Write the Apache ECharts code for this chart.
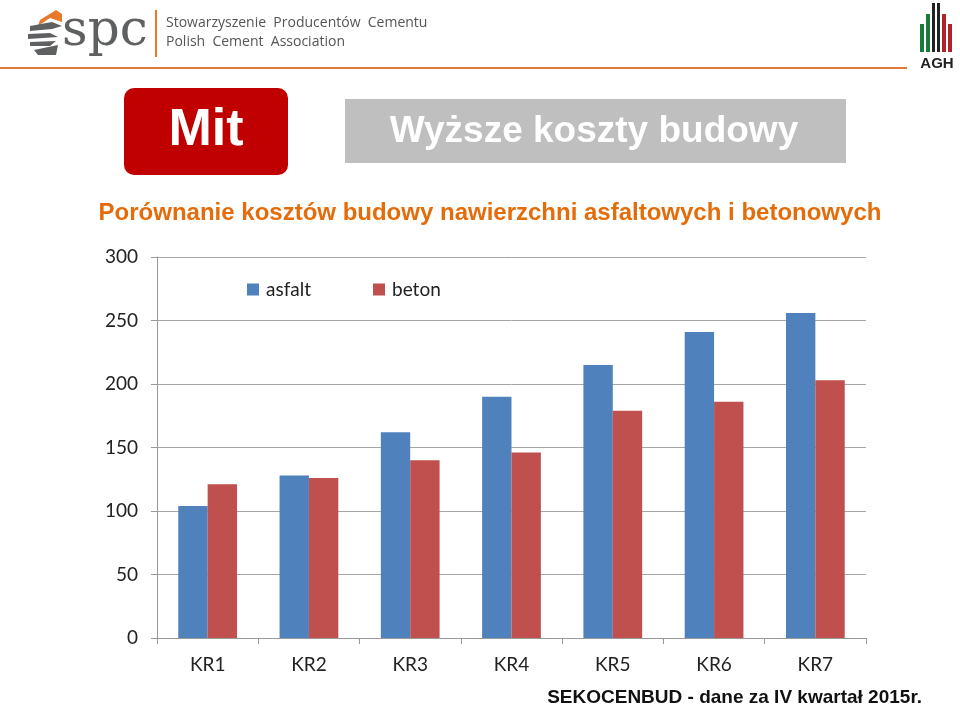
<!DOCTYPE html>
<html><head><meta charset="utf-8">
<script src="https://cdn.jsdelivr.net/npm/echarts@6/dist/echarts.min.js"></script>
<style>html,body{margin:0;padding:0;background:#fff}#c{width:960px;height:708px}</style>
</head><body><div id="c"></div>
<script>
const categories = ['KR1','KR2','KR3','KR4','KR5','KR6','KR7'];
const asfalt = [104, 128, 162, 190, 215, 241, 256];
const beton = [121, 126, 140, 146, 179, 186, 203];
const yTicks = [0, 50, 100, 150, 200, 250, 300];

const chart = echarts.init(document.getElementById('c'), null, {renderer:'canvas'});
const lab = 'Lato, "Open Sans", sans-serif';
chart.setOption({
  backgroundColor:'#fff',
  animation:false,
  grid:{left:157, right:94, top:257, bottom:70, containLabel:false},
  legend:{
    data:['asfalt','beton'], left:242, top:275, itemWidth:12, itemHeight:12, itemGap:62,
    icon:'rect', textStyle:{fontFamily:lab, fontSize:19, color:'#222', padding:[0,0,0,2]}
  },
  xAxis:{
    type:'category', data:categories,
    axisLine:{lineStyle:{color:'#999', width:1}},
    axisTick:{show:true, length:6, lineStyle:{color:'#999'}},
    axisLabel:{fontFamily:lab, fontSize:19, color:'#222', margin:17}
  },
  yAxis:{
    type:'value', min:yTicks[0], max:yTicks[yTicks.length-1], interval:50,
    axisLine:{show:true, lineStyle:{color:'#999'}},
    axisTick:{show:true, length:6, inside:false, lineStyle:{color:'#999'}},
    splitLine:{lineStyle:{color:'#a6a6a6', width:1}},
    axisLabel:{fontFamily:lab, fontSize:19, color:'#222', margin:19}
  },
  series:[
    {name:'asfalt', type:'bar', data:asfalt, barGap:'0%', barCategoryGap:'42%', itemStyle:{color:'#4f81bd'}},
    {name:'beton', type:'bar', data:beton, barGap:'0%', barCategoryGap:'42%', itemStyle:{color:'#c0504d'}}
  ],
  graphic:[
    {type:'rect', shape:{x:0,y:67,width:907,height:2}, style:{fill:'#e07b39'}},
    {type:'polygon', shape:{points:[[40,20],[56,10],[62,14],[62,22],[50,18],[38,26]]}, style:{fill:'#e8782a'}},
    {type:'polygon', shape:{points:[[30,26],[52,22],[62,26],[52,29],[30,31]]}, style:{fill:'#5f6062'}},
    {type:'polygon', shape:{points:[[28,34],[50,33],[58,37],[28,39]]}, style:{fill:'#5f6062'}},
    {type:'polygon', shape:{points:[[30,42],[56,41],[50,46],[30,46]]}, style:{fill:'#5f6062'}},
    {type:'polygon', shape:{points:[[34,50],[58,45],[56,55],[38,55]]}, style:{fill:'#5f6062'}},
    {type:'text', left:62, top:7, style:{text:'spc', fontFamily:'"DejaVu Serif", "Liberation Serif", serif', fontSize:50, fill:'#5f6062'}},
    {type:'rect', shape:{x:155,y:10,width:2,height:47}, style:{fill:'#e8782a'}},
    {type:'text', left:166, top:16, style:{text:'Stowarzyszenie  Producentów  Cementu', fontFamily:'"Open Sans", sans-serif', fontSize:14, fill:'#555'}},
    {type:'text', left:166, top:35, style:{text:'Polish  Cement  Association', fontFamily:'"Open Sans", sans-serif', fontSize:14, fill:'#555'}},
    {type:'rect', shape:{x:920,y:24,width:4,height:28}, style:{fill:'#1a7a3a'}},
    {type:'rect', shape:{x:926,y:14,width:4,height:38}, style:{fill:'#1a7a3a'}},
    {type:'rect', shape:{x:932,y:3,width:3,height:49}, style:{fill:'#222'}},
    {type:'rect', shape:{x:937,y:3,width:3,height:49}, style:{fill:'#222'}},
    {type:'rect', shape:{x:942,y:14,width:4,height:38}, style:{fill:'#b0232a'}},
    {type:'rect', shape:{x:948,y:24,width:4,height:28}, style:{fill:'#b0232a'}},
    {type:'text', x:937, y:64, style:{text:'AGH', fontFamily:'"Liberation Sans", Arial, sans-serif', fontWeight:'bold', fontSize:15, fill:'#222', align:'center', verticalAlign:'middle'}},
    {type:'rect', shape:{x:124,y:88,width:164,height:87,r:10}, style:{fill:'#c00000'}},
    {type:'text', x:206, y:131, style:{text:'Mit', fontFamily:'"Liberation Sans", Arial, sans-serif', fontWeight:'bold', fontSize:52, fill:'#fff', align:'center', verticalAlign:'middle'}},
    {type:'rect', shape:{x:345,y:99,width:501,height:64}, style:{fill:'#bfbfbf'}},
    {type:'text', x:594, y:132, style:{text:'Wyższe koszty budowy', fontFamily:'"Liberation Sans", Arial, sans-serif', fontWeight:'bold', fontSize:37, fill:'#fff', align:'center', verticalAlign:'middle'}},
    {type:'text', x:490, y:213, style:{text:'Porównanie kosztów budowy nawierzchni asfaltowych i betonowych', fontFamily:'"Liberation Sans", Arial, sans-serif', fontWeight:'bold', fontSize:24, fill:'#e46c0a', align:'center', verticalAlign:'middle'}},
    {type:'text', x:922, y:698, style:{text:'SEKOCENBUD - dane za IV kwartał 2015r.', fontFamily:'"Liberation Sans", Arial, sans-serif', fontWeight:'bold', fontSize:19, fill:'#111', align:'right', verticalAlign:'middle'}}
  ]
});
</script></body></html>
